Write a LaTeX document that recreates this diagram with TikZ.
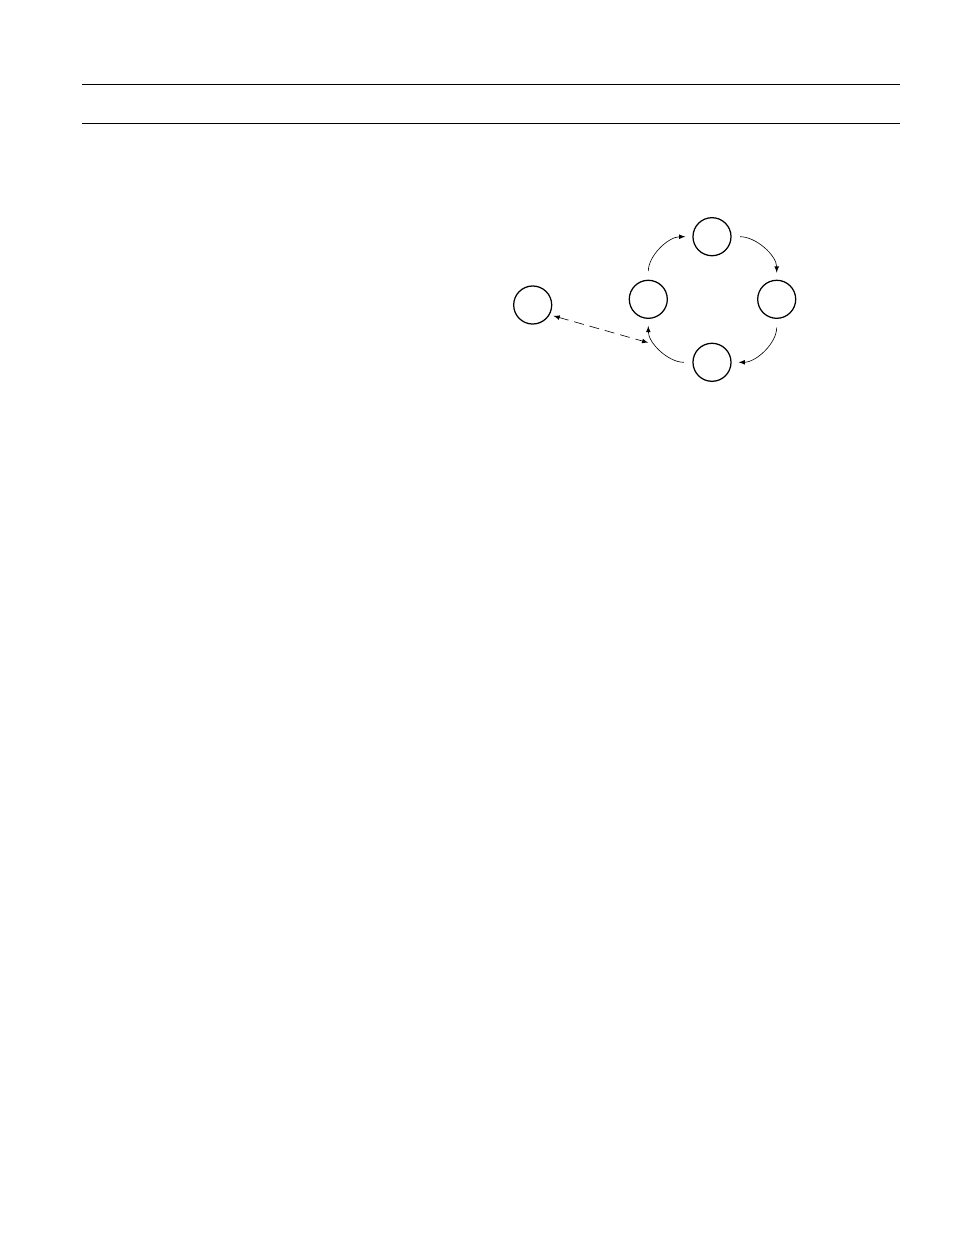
\documentclass[tikz,border=0pt]{standalone}
\usepackage{tikz}
\usetikzlibrary{arrows}

\begin{document}
\begin{tikzpicture}[x=0.6415pt,y=-0.6415pt,
    state/.style={inner sep=0pt,minimum size=24.4pt,circle,draw,line width=0.8pt},
    link/.style={-latex,line width=0.4pt,shorten <=5.5pt,shorten >=4.5pt}]
      \useasboundingbox (0,0) rectangle (954,1235);
      \draw[line width=0.9pt] (82,84.3) -- (900,84.3);
      \draw[line width=0.9pt] (82,123.3) -- (900,123.3);

      \node[state](top) at (712,236.7){};
      \node[state](right) at (776.7,299.3){};
      \node[state](left) at (648.3,299.3){};
      \node[state](bottom) at (712,362.3){};
      \node[state](far) at (532.7,305){};
      \coordinate (dashend) at (648.3,342.7);

      \draw[link] (left.north) to[out=90,in=180] (top.west);
      \draw[link] (top.east) to[out=0,in=90] (right.north);
      \draw[link] (right.south) to[out=-90,in=0] (bottom.east);
      \draw[link] (bottom.west) to[out=180,in=-90] (left.south);
      \draw[latex-latex,line width=0.4pt,dash pattern=on 6.4pt off 3.8pt,shorten <=2.5pt] (far.-30) -- (dashend);
    \end{tikzpicture}
\end{document}
